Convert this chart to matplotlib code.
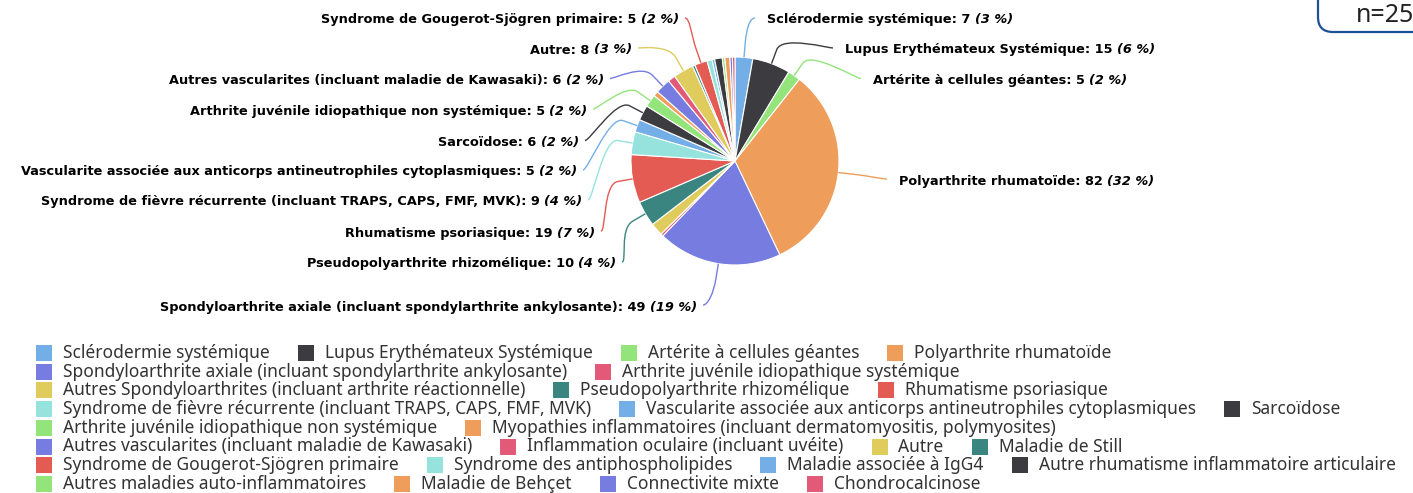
import numpy as np
import matplotlib
matplotlib.use("Agg")
import matplotlib.pyplot as plt
from matplotlib.path import Path
from matplotlib.patches import PathPatch, Rectangle, FancyBboxPatch
from matplotlib.offsetbox import TextArea, HPacker, DrawingArea, AnnotationBbox

# données du graphique
categories = [
    "Sclérodermie systémique",
    "Lupus Erythémateux Systémique",
    "Artérite à cellules géantes",
    "Polyarthrite rhumatoïde",
    "Spondyloarthrite axiale (incluant spondylarthrite ankylosante)",
    "Arthrite juvénile idiopathique systémique",
    "Autres Spondyloarthrites (incluant arthrite réactionnelle)",
    "Pseudopolyarthrite rhizomélique",
    "Rhumatisme psoriasique",
    "Syndrome de fièvre récurrente (incluant TRAPS, CAPS, FMF, MVK)",
    "Vascularite associée aux anticorps antineutrophiles cytoplasmiques",
    "Sarcoïdose",
    "Arthrite juvénile idiopathique non systémique",
    "Myopathies inflammatoires (incluant dermatomyositis, polymyosites)",
    "Autres vascularites (incluant maladie de Kawasaki)",
    "Inflammation oculaire (incluant uvéite)",
    "Autre",
    "Maladie de Still",
    "Syndrome de Gougerot-Sjögren primaire",
    "Syndrome des antiphospholipides",
    "Maladie associée à IgG4",
    "Autre rhumatisme inflammatoire articulaire",
    "Autres maladies auto-inflammatoires",
    "Maladie de Behçet",
    "Connectivite mixte",
    "Chondrocalcinose",
]
values = [7, 15, 5, 82, 49, 1, 5, 10, 19, 9, 5, 6, 5, 2, 6, 3, 8, 1, 5, 2, 1, 3, 1, 2, 1, 1]
n_total = "n=254"

palette = ["#74aee6", "#3b3b40", "#94e47c", "#ee9d5b", "#767ce0",
           "#e35a78", "#e0cc5c", "#3a8580", "#e45b54", "#95e3dc"]
colors = [palette[i % len(palette)] for i in range(len(values))]

# position des étiquettes (côté, x du bord du texte, y)
label_pos = {
    0: ("right", 767, 20),
    1: ("right", 845, 50),
    2: ("right", 873, 80.5),
    3: ("right", 899, 181),
    4: ("left", 697, 307),
    7: ("left", 616, 264),
    8: ("left", 595, 233),
    9: ("left", 582, 202),
    10: ("left", 577, 172),
    11: ("left", 579, 142.5),
    12: ("left", 587, 111),
    14: ("left", 604, 80.5),
    16: ("left", 632, 50),
    18: ("left", 679, 20),
}
legend_rows = [[0, 1, 2, 3], [4, 5], [6, 7, 8], [9, 10, 11], [12, 13],
               [14, 15, 16, 17], [18, 19, 20, 21], [22, 23, 24, 25]]

W, H = 1413, 493
px = 72 / 100  # pixels -> points
cx, cy, r = 735, 161, 104

fig = plt.figure(figsize=(W / 100, H / 100), dpi=100)
ax = fig.add_axes([0, 0, 1, 1])
ax.pie(values, colors=colors, startangle=-90, counterclock=True,
       center=(cx, cy), radius=r,
       wedgeprops=dict(edgecolor="white", linewidth=0.8))
ax.set_xlim(0, W)
ax.set_ylim(H, 0)
ax.set_aspect("auto")
ax.axis("off")

total = sum(values)
cum = np.cumsum(values)
lab_font = "DejaVu Sans"
lab_size = 9.3

for i, (side, tx, ty) in label_pos.items():
    mid = cum[i] - values[i] / 2
    ang = np.deg2rad(-90 + 360 * mid / total)
    d = np.array([np.cos(ang), np.sin(ang)])
    E = np.array([cx, cy]) + r * d
    B = np.array([cx, cy]) + (r + 15) * d
    if side == "left":
        L = np.array([tx + 6, ty - 2])
        C1 = L + [5, 0]
    else:
        L = np.array([tx - 12, ty - 2])
        C1 = L + [-5, 0]
    C2 = 2 * B - E
    path = Path([L, C1, C2, B, E],
                [Path.MOVETO, Path.CURVE4, Path.CURVE4, Path.CURVE4, Path.LINETO])
    ax.add_patch(PathPatch(path, fc="none", ec=colors[i], lw=1.0))

    pct = int(np.floor(values[i] / total * 100 + 0.5))
    t1 = TextArea(f"{categories[i]}: {values[i]}",
                  textprops=dict(fontsize=lab_size, fontweight="bold", color="black", family=lab_font))
    t2 = TextArea(f"({pct} %)",
                  textprops=dict(fontsize=lab_size, fontweight="bold", fontstyle="italic",
                                 color="black", family=lab_font))
    box = HPacker(children=[t1, t2], align="baseline", pad=0, sep=3)
    ab = AnnotationBbox(box, (tx, ty), xycoords="data", frameon=False, pad=0,
                        box_alignment=(1, 0.5) if side == "left" else (0, 0.5))
    ax.add_artist(ab)

# légende
sym = 16 * px
for k, row in enumerate(legend_rows):
    items = []
    for i in row:
        da = DrawingArea(sym, sym, 0, 0)
        da.add_artist(Rectangle((0, 0), sym, sym, fc=colors[i], ec="none"))
        ta = TextArea(categories[i], textprops=dict(fontsize=12.5, color="#333333", family="Noto Sans"))
        items.append(HPacker(children=[da, ta], align="center", pad=0, sep=11 * px))
    row_box = HPacker(children=items, align="center", pad=0, sep=28 * px)
    ab = AnnotationBbox(row_box, (36, 353 + k * 18.7), xycoords="data", frameon=False,
                        pad=0, box_alignment=(0, 0.5))
    ax.add_artist(ab)

# encadré n=
ax.add_patch(FancyBboxPatch((1318, -30), 160, 62, boxstyle="round,pad=0,rounding_size=15",
                            fc="none", ec="#1f5096", lw=1.6))
ax.text(1356, 16, n_total, fontsize=18, family="Noto Sans", color="#222222", va="center")

fig.savefig("out.png", dpi=100)
